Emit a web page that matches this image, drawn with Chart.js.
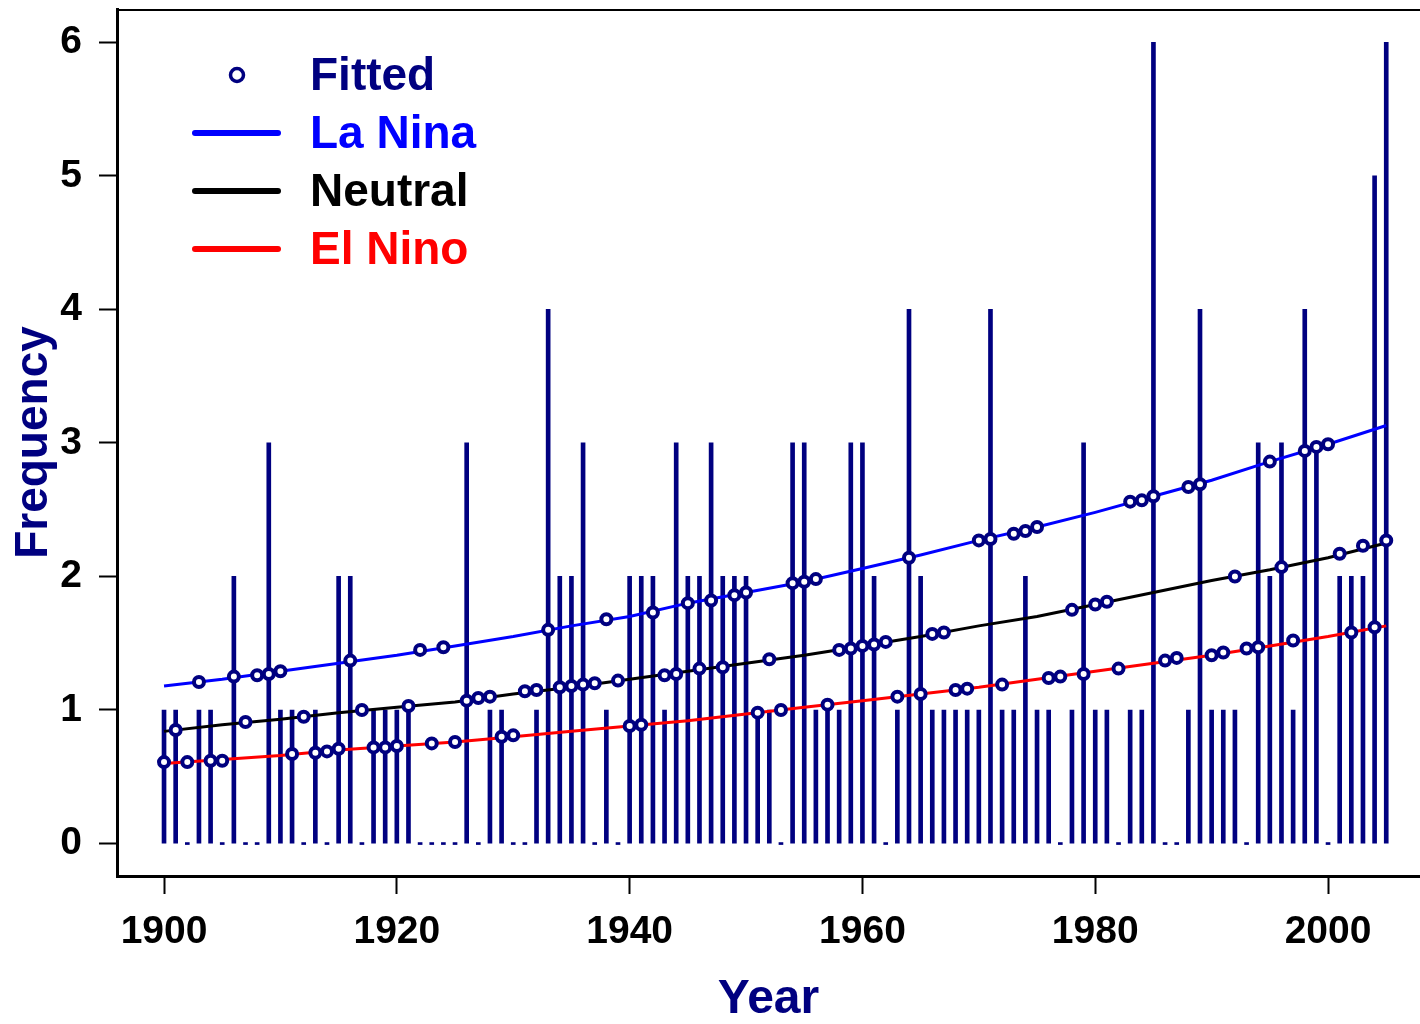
<!DOCTYPE html>
<html>
<head>
<meta charset="utf-8">
<title>Frequency by Year</title>
<script src="https://cdn.jsdelivr.net/npm/chart.js@4.4.1/dist/chart.umd.min.js"></script>
<style>
  html, body { margin: 0; padding: 0; background: #ffffff; overflow: hidden; }
  #wrap { width: 1420px; height: 1024px; overflow: hidden; }
</style>
</head>
<body>
<div id="wrap"><canvas id="freqChart" width="1429" height="1024"></canvas></div>
<script>
// observed yearly counts, 1900-2005
const years = [];
for (let y = 1900; y <= 2005; y++) years.push(y);

const counts = [
  1, 1, 0, 1, 1, 0, 2, 0, 0, 3,   // 1900-1909
  1, 1, 0, 1, 0, 2, 2, 0, 1, 1,   // 1910-1919
  1, 1, 0, 0, 0, 0, 3, 0, 1, 1,   // 1920-1929
  0, 0, 1, 4, 2, 2, 3, 0, 1, 0,   // 1930-1939
  2, 2, 2, 1, 3, 2, 2, 3, 2, 2,   // 1940-1949
  2, 1, 1, 0, 3, 3, 1, 1, 1, 3,   // 1950-1959
  3, 2, 0, 1, 4, 2, 1, 1, 1, 1,   // 1960-1969
  1, 4, 1, 1, 2, 1, 1, 0, 1, 3,   // 1970-1979
  1, 1, 0, 1, 1, 6, 0, 0, 1, 4,   // 1980-1989
  1, 1, 1, 0, 3, 2, 3, 1, 4, 3,   // 1990-1999
  0, 2, 2, 2, 5, 6                // 2000-2005
];

// fitted value for each year (sits on the curve of that year's ENSO phase)
const fitted = [
  0.61, 0.85, 0.61, 1.21, 0.62, 0.62, 1.25, 0.91, 1.26, 1.27,
  1.29, 0.67, 0.95, 0.68, 0.69, 0.71, 1.37, 1.00, 0.72, 0.72,
  0.73, 1.03, 1.45, 0.75, 1.47, 0.76, 1.07, 1.09, 1.10, 0.80,
  0.81, 1.14, 1.15, 1.60, 1.17, 1.18, 1.19, 1.20, 1.68, 1.22,
  0.88, 0.89, 1.73, 1.26, 1.27, 1.80, 1.31, 1.82, 1.32, 1.86,
  1.88, 0.98, 1.38, 1.00, 1.95, 1.96, 1.98, 1.04, 1.45, 1.46,
  1.48, 1.49, 1.51, 1.10, 2.14, 1.12, 1.57, 1.58, 1.15, 1.16,
  2.27, 2.28, 1.19, 2.32, 2.34, 2.37, 1.24, 1.25, 1.75, 1.27,
  1.79, 1.81, 1.31, 2.56, 2.57, 2.60, 1.37, 1.39, 2.67, 2.69,
  1.41, 1.43, 2.00, 1.46, 1.47, 2.86, 2.07, 1.52, 2.94, 2.97,
  2.99, 2.17, 1.58, 2.23, 1.62, 2.27
];

// curves by phase, every 5 years
const curveYears = [1900, 1905, 1910, 1915, 1920, 1925, 1930, 1935, 1940, 1945, 1950,
                    1955, 1960, 1965, 1970, 1975, 1980, 1985, 1990, 1995, 2000, 2005];
const laNina  = [1.18, 1.23, 1.29, 1.35, 1.41, 1.48, 1.55, 1.63, 1.70, 1.80, 1.88,
                 1.96, 2.06, 2.16, 2.27, 2.37, 2.48, 2.60, 2.72, 2.86, 2.99, 3.13];
const neutral = [0.84, 0.89, 0.93, 0.98, 1.02, 1.06, 1.12, 1.17, 1.23, 1.29, 1.35,
                 1.41, 1.48, 1.55, 1.63, 1.70, 1.79, 1.88, 1.97, 2.05, 2.14, 2.25];
const elNino  = [0.60, 0.63, 0.66, 0.70, 0.73, 0.76, 0.80, 0.84, 0.88, 0.92, 0.97,
                 1.02, 1.07, 1.12, 1.17, 1.23, 1.29, 1.35, 1.41, 1.48, 1.55, 1.63];

const xTicks = [1900, 1920, 1940, 1960, 1980, 2000];
const yTicks = [0, 1, 2, 3, 4, 5, 6];

const legendItems = [
  { text: 'Fitted',  color: '#000080', kind: 'point' },
  { text: 'La Nina', color: '#0000ff', kind: 'line' },
  { text: 'Neutral', color: '#000000', kind: 'line' },
  { text: 'El Nino', color: '#ff0000', kind: 'line' }
];

const NAVY = '#000080';
const FONT = "'Liberation Sans', Arial, Helvetica, sans-serif";

const toXY = (xs, ys) => xs.map((x, i) => ({ x: x, y: ys[i] }));

// keep the axis boxes at fixed sizes, no extra room for overhanging labels
function fixBox(scale, size) {
  if (scale.isHorizontal()) scale.height = size;
  else scale.width = size;
  scale.paddingTop = 0;
  scale.paddingBottom = 0;
  scale.paddingLeft = 0;
  scale.paddingRight = 0;
}

// top frame line + legend in the upper left corner
const framePlugin = {
  id: 'frameAndLegend',
  afterDraw(chart) {
    const ctx = chart.ctx;
    const area = chart.chartArea;
    ctx.save();
    ctx.strokeStyle = '#000';
    ctx.lineWidth = 2;
    ctx.beginPath();
    ctx.moveTo(area.left, area.top + 1);
    ctx.lineTo(chart.width, area.top + 1);
    ctx.stroke();

    ctx.font = 'bold 46px ' + FONT;
    ctx.textBaseline = 'alphabetic';
    ctx.textAlign = 'left';
    legendItems.forEach((item, i) => {
      const yMid = 75 + i * 58;
      if (item.kind === 'point') {
        ctx.strokeStyle = item.color;
        ctx.lineWidth = 3.5;
        ctx.beginPath();
        ctx.arc(237, yMid, 6.5, 0, Math.PI * 2);
        ctx.stroke();
      } else {
        ctx.strokeStyle = item.color;
        ctx.lineWidth = 6;
        ctx.lineCap = 'round';
        ctx.beginPath();
        ctx.moveTo(195, yMid);
        ctx.lineTo(278, yMid);
        ctx.stroke();
      }
      ctx.fillStyle = item.color;
      ctx.fillText(item.text, 310, yMid + 15);
    });
    ctx.restore();
  }
};

const ctx = document.getElementById('freqChart').getContext('2d');
new Chart(ctx, {
  type: 'bar',
  data: {
    datasets: [
      {
        type: 'scatter',
        label: 'Fitted',
        data: toXY(years, fitted),
        showLine: false,
        pointRadius: 5,
        pointBorderWidth: 4,
        pointBorderColor: NAVY,
        pointBackgroundColor: '#ffffff',
        order: 1
      },
      {
        type: 'line',
        label: 'La Nina',
        data: toXY(curveYears, laNina),
        borderColor: '#0000ff',
        borderWidth: 3,
        pointRadius: 0,
        fill: false,
        order: 2
      },
      {
        type: 'line',
        label: 'Neutral',
        data: toXY(curveYears, neutral),
        borderColor: '#000000',
        borderWidth: 3,
        pointRadius: 0,
        fill: false,
        order: 2
      },
      {
        type: 'line',
        label: 'El Nino',
        data: toXY(curveYears, elNino),
        borderColor: '#ff0000',
        borderWidth: 3,
        pointRadius: 0,
        fill: false,
        order: 2
      },
      {
        type: 'bar',
        label: 'Count',
        data: toXY(years, counts),
        backgroundColor: NAVY,
        borderWidth: 0,
        barThickness: 4,
        minBarLength: 2,
        order: 3
      }
    ]
  },
  options: {
    responsive: false,
    animation: false,
    layout: { padding: { top: 8, right: 0, left: 0, bottom: 0 } },
    plugins: {
      legend: { display: false },
      tooltip: { enabled: false }
    },
    events: [],
    scales: {
      x: {
        type: 'linear',
        offset: false,
        min: 1895.96,
        max: 2007.9,
        afterBuildTicks: (scale) => { scale.ticks = xTicks.map(v => ({ value: v })); },
        afterFit: (scale) => fixBox(scale, 148),
        grid: {
          offset: false,
          drawOnChartArea: false,
          drawTicks: true,
          tickLength: 18,
          tickWidth: 2,
          tickColor: '#000'
        },
        border: { display: true, color: '#000', width: 3 },
        ticks: {
          color: '#000',
          padding: 15,
          maxRotation: 0,
          autoSkip: false,
          font: { family: FONT, size: 39, weight: 'bold' },
          callback: (v) => String(v)
        },
        title: {
          display: true,
          text: 'Year',
          color: NAVY,
          padding: { top: 0, bottom: 0 },
          font: { family: FONT, size: 48, weight: 'bold', lineHeight: 1 }
        }
      },
      y: {
        type: 'linear',
        min: -0.243,
        max: 6.249,
        afterBuildTicks: (scale) => { scale.ticks = yTicks.map(v => ({ value: v })); },
        afterFit: (scale) => fixBox(scale, 117),
        grid: {
          drawOnChartArea: false,
          drawTicks: true,
          tickLength: 18,
          tickWidth: 2,
          tickColor: '#000'
        },
        border: { display: true, color: '#000', width: 3 },
        ticks: {
          color: '#000',
          padding: 17,
          autoSkip: false,
          font: { family: FONT, size: 39, weight: 'bold' }
        },
        title: {
          display: true,
          text: 'Frequency',
          color: NAVY,
          padding: { top: 11, bottom: 0 },
          font: { family: FONT, size: 46, weight: 'bold', lineHeight: 1 }
        }
      }
    }
  },
  plugins: [framePlugin]
});
</script>
</body>
</html>
